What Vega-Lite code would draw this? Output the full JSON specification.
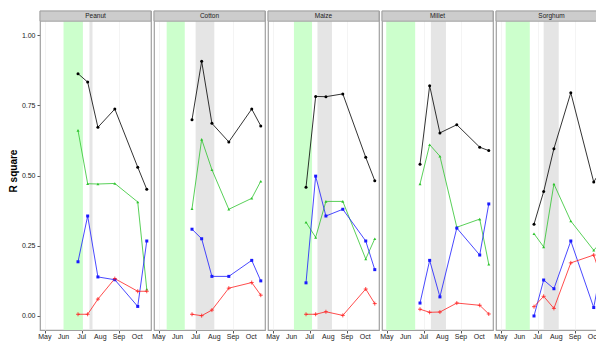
{
  "$schema": "https://vega.github.io/schema/vega-lite/v6.json",
  "padding": {"left": 8, "top": 9, "right": 0, "bottom": 0},
  "config": {
    "font": "Liberation Sans",
    "view": {"stroke": "#a0a0a0", "strokeWidth": 1.2},
    "axis": {"labelColor": "#1a1a1a", "labelFontSize": 7, "tickColor": "#555", "tickSize": 3, "domain": false, "gridColor": "#ececec", "gridWidth": 0.6}
  },
  "data": {"values": [
    {"crop":"Peanut","kind":"green","start":"2014-06-01","end":"2014-07-03"},
    {"crop":"Peanut","kind":"grey","start":"2014-07-14","end":"2014-07-19"},
    {"crop":"Cotton","kind":"green","start":"2014-05-14","end":"2014-06-13"},
    {"crop":"Cotton","kind":"grey","start":"2014-07-01","end":"2014-08-01"},
    {"crop":"Maize","kind":"green","start":"2014-06-05","end":"2014-07-05"},
    {"crop":"Maize","kind":"grey","start":"2014-07-14","end":"2014-08-07"},
    {"crop":"Millet","kind":"green","start":"2014-04-30","end":"2014-06-17"},
    {"crop":"Millet","kind":"grey","start":"2014-07-13","end":"2014-08-07"},
    {"crop":"Sorghum","kind":"green","start":"2014-05-09","end":"2014-06-18"},
    {"crop":"Sorghum","kind":"grey","start":"2014-07-11","end":"2014-08-05"},

    {"crop":"Peanut","kind":"month","date":"2014-05-01","label":"May"},
    {"crop":"Peanut","kind":"month","date":"2014-06-01","label":"Jun"},
    {"crop":"Peanut","kind":"month","date":"2014-07-01","label":"Jul"},
    {"crop":"Peanut","kind":"month","date":"2014-08-01","label":"Aug"},
    {"crop":"Peanut","kind":"month","date":"2014-09-01","label":"Sep"},
    {"crop":"Peanut","kind":"month","date":"2014-10-01","label":"Oct"},
    {"crop":"Cotton","kind":"month","date":"2014-05-01","label":"May"},
    {"crop":"Cotton","kind":"month","date":"2014-06-01","label":"Jun"},
    {"crop":"Cotton","kind":"month","date":"2014-07-01","label":"Jul"},
    {"crop":"Cotton","kind":"month","date":"2014-08-01","label":"Aug"},
    {"crop":"Cotton","kind":"month","date":"2014-09-01","label":"Sep"},
    {"crop":"Cotton","kind":"month","date":"2014-10-01","label":"Oct"},
    {"crop":"Maize","kind":"month","date":"2014-05-01","label":"May"},
    {"crop":"Maize","kind":"month","date":"2014-06-01","label":"Jun"},
    {"crop":"Maize","kind":"month","date":"2014-07-01","label":"Jul"},
    {"crop":"Maize","kind":"month","date":"2014-08-01","label":"Aug"},
    {"crop":"Maize","kind":"month","date":"2014-09-01","label":"Sep"},
    {"crop":"Maize","kind":"month","date":"2014-10-01","label":"Oct"},
    {"crop":"Millet","kind":"month","date":"2014-05-01","label":"May"},
    {"crop":"Millet","kind":"month","date":"2014-06-01","label":"Jun"},
    {"crop":"Millet","kind":"month","date":"2014-07-01","label":"Jul"},
    {"crop":"Millet","kind":"month","date":"2014-08-01","label":"Aug"},
    {"crop":"Millet","kind":"month","date":"2014-09-01","label":"Sep"},
    {"crop":"Millet","kind":"month","date":"2014-10-01","label":"Oct"},
    {"crop":"Sorghum","kind":"month","date":"2014-05-01","label":"May"},
    {"crop":"Sorghum","kind":"month","date":"2014-06-01","label":"Jun"},
    {"crop":"Sorghum","kind":"month","date":"2014-07-01","label":"Jul"},
    {"crop":"Sorghum","kind":"month","date":"2014-08-01","label":"Aug"},
    {"crop":"Sorghum","kind":"month","date":"2014-09-01","label":"Sep"},
    {"crop":"Sorghum","kind":"month","date":"2014-10-01","label":"Oct"},

    {"crop":"Peanut","kind":"obs","series":"S1","date":"2014-06-25","r2":0.863},
    {"crop":"Peanut","kind":"obs","series":"S1","date":"2014-07-11","r2":0.833},
    {"crop":"Peanut","kind":"obs","series":"S1","date":"2014-07-28","r2":0.672},
    {"crop":"Peanut","kind":"obs","series":"S1","date":"2014-08-25","r2":0.737},
    {"crop":"Peanut","kind":"obs","series":"S1","date":"2014-10-02","r2":0.530},
    {"crop":"Peanut","kind":"obs","series":"S1","date":"2014-10-17","r2":0.451},
    {"crop":"Peanut","kind":"obs","series":"S2","date":"2014-06-25","r2":0.661},
    {"crop":"Peanut","kind":"obs","series":"S2","date":"2014-07-11","r2":0.471},
    {"crop":"Peanut","kind":"obs","series":"S2","date":"2014-07-28","r2":0.470},
    {"crop":"Peanut","kind":"obs","series":"S2","date":"2014-08-25","r2":0.472},
    {"crop":"Peanut","kind":"obs","series":"S2","date":"2014-10-02","r2":0.406},
    {"crop":"Peanut","kind":"obs","series":"S2","date":"2014-10-17","r2":0.095},
    {"crop":"Peanut","kind":"obs","series":"S3","date":"2014-06-25","r2":0.193},
    {"crop":"Peanut","kind":"obs","series":"S3","date":"2014-07-11","r2":0.356},
    {"crop":"Peanut","kind":"obs","series":"S3","date":"2014-07-28","r2":0.139},
    {"crop":"Peanut","kind":"obs","series":"S3","date":"2014-08-25","r2":0.129},
    {"crop":"Peanut","kind":"obs","series":"S3","date":"2014-10-02","r2":0.034},
    {"crop":"Peanut","kind":"obs","series":"S3","date":"2014-10-17","r2":0.267},
    {"crop":"Peanut","kind":"obs","series":"S4","date":"2014-06-25","r2":0.006},
    {"crop":"Peanut","kind":"obs","series":"S4","date":"2014-07-11","r2":0.006},
    {"crop":"Peanut","kind":"obs","series":"S4","date":"2014-07-28","r2":0.060},
    {"crop":"Peanut","kind":"obs","series":"S4","date":"2014-08-25","r2":0.133},
    {"crop":"Peanut","kind":"obs","series":"S4","date":"2014-10-02","r2":0.088},
    {"crop":"Peanut","kind":"obs","series":"S4","date":"2014-10-17","r2":0.088},

    {"crop":"Cotton","kind":"obs","series":"S1","date":"2014-06-25","r2":0.699},
    {"crop":"Cotton","kind":"obs","series":"S1","date":"2014-07-11","r2":0.907},
    {"crop":"Cotton","kind":"obs","series":"S1","date":"2014-07-28","r2":0.686},
    {"crop":"Cotton","kind":"obs","series":"S1","date":"2014-08-25","r2":0.620},
    {"crop":"Cotton","kind":"obs","series":"S1","date":"2014-10-02","r2":0.737},
    {"crop":"Cotton","kind":"obs","series":"S1","date":"2014-10-17","r2":0.677},
    {"crop":"Cotton","kind":"obs","series":"S2","date":"2014-06-25","r2":0.382},
    {"crop":"Cotton","kind":"obs","series":"S2","date":"2014-07-11","r2":0.629},
    {"crop":"Cotton","kind":"obs","series":"S2","date":"2014-07-28","r2":0.521},
    {"crop":"Cotton","kind":"obs","series":"S2","date":"2014-08-25","r2":0.380},
    {"crop":"Cotton","kind":"obs","series":"S2","date":"2014-10-02","r2":0.419},
    {"crop":"Cotton","kind":"obs","series":"S2","date":"2014-10-17","r2":0.480},
    {"crop":"Cotton","kind":"obs","series":"S3","date":"2014-06-25","r2":0.309},
    {"crop":"Cotton","kind":"obs","series":"S3","date":"2014-07-11","r2":0.275},
    {"crop":"Cotton","kind":"obs","series":"S3","date":"2014-07-28","r2":0.141},
    {"crop":"Cotton","kind":"obs","series":"S3","date":"2014-08-25","r2":0.141},
    {"crop":"Cotton","kind":"obs","series":"S3","date":"2014-10-02","r2":0.198},
    {"crop":"Cotton","kind":"obs","series":"S3","date":"2014-10-17","r2":0.125},
    {"crop":"Cotton","kind":"obs","series":"S4","date":"2014-06-25","r2":0.006},
    {"crop":"Cotton","kind":"obs","series":"S4","date":"2014-07-11","r2":0.001},
    {"crop":"Cotton","kind":"obs","series":"S4","date":"2014-07-28","r2":0.021},
    {"crop":"Cotton","kind":"obs","series":"S4","date":"2014-08-25","r2":0.099},
    {"crop":"Cotton","kind":"obs","series":"S4","date":"2014-10-02","r2":0.119},
    {"crop":"Cotton","kind":"obs","series":"S4","date":"2014-10-17","r2":0.074},

    {"crop":"Maize","kind":"obs","series":"S1","date":"2014-06-25","r2":0.458},
    {"crop":"Maize","kind":"obs","series":"S1","date":"2014-07-11","r2":0.782},
    {"crop":"Maize","kind":"obs","series":"S1","date":"2014-07-28","r2":0.781},
    {"crop":"Maize","kind":"obs","series":"S1","date":"2014-08-25","r2":0.791},
    {"crop":"Maize","kind":"obs","series":"S1","date":"2014-10-02","r2":0.565},
    {"crop":"Maize","kind":"obs","series":"S1","date":"2014-10-17","r2":0.482},
    {"crop":"Maize","kind":"obs","series":"S2","date":"2014-06-25","r2":0.334},
    {"crop":"Maize","kind":"obs","series":"S2","date":"2014-07-11","r2":0.280},
    {"crop":"Maize","kind":"obs","series":"S2","date":"2014-07-28","r2":0.408},
    {"crop":"Maize","kind":"obs","series":"S2","date":"2014-08-25","r2":0.408},
    {"crop":"Maize","kind":"obs","series":"S2","date":"2014-10-02","r2":0.203},
    {"crop":"Maize","kind":"obs","series":"S2","date":"2014-10-17","r2":0.275},
    {"crop":"Maize","kind":"obs","series":"S3","date":"2014-06-25","r2":0.118},
    {"crop":"Maize","kind":"obs","series":"S3","date":"2014-07-11","r2":0.498},
    {"crop":"Maize","kind":"obs","series":"S3","date":"2014-07-28","r2":0.356},
    {"crop":"Maize","kind":"obs","series":"S3","date":"2014-08-25","r2":0.380},
    {"crop":"Maize","kind":"obs","series":"S3","date":"2014-10-02","r2":0.267},
    {"crop":"Maize","kind":"obs","series":"S3","date":"2014-10-17","r2":0.165},
    {"crop":"Maize","kind":"obs","series":"S4","date":"2014-06-25","r2":0.006},
    {"crop":"Maize","kind":"obs","series":"S4","date":"2014-07-11","r2":0.006},
    {"crop":"Maize","kind":"obs","series":"S4","date":"2014-07-28","r2":0.015},
    {"crop":"Maize","kind":"obs","series":"S4","date":"2014-08-25","r2":0.002},
    {"crop":"Maize","kind":"obs","series":"S4","date":"2014-10-02","r2":0.096},
    {"crop":"Maize","kind":"obs","series":"S4","date":"2014-10-17","r2":0.044},

    {"crop":"Millet","kind":"obs","series":"S1","date":"2014-06-25","r2":0.540},
    {"crop":"Millet","kind":"obs","series":"S1","date":"2014-07-11","r2":0.820},
    {"crop":"Millet","kind":"obs","series":"S1","date":"2014-07-28","r2":0.652},
    {"crop":"Millet","kind":"obs","series":"S1","date":"2014-08-25","r2":0.681},
    {"crop":"Millet","kind":"obs","series":"S1","date":"2014-10-02","r2":0.601},
    {"crop":"Millet","kind":"obs","series":"S1","date":"2014-10-17","r2":0.589},
    {"crop":"Millet","kind":"obs","series":"S2","date":"2014-06-25","r2":0.470},
    {"crop":"Millet","kind":"obs","series":"S2","date":"2014-07-11","r2":0.610},
    {"crop":"Millet","kind":"obs","series":"S2","date":"2014-07-28","r2":0.569},
    {"crop":"Millet","kind":"obs","series":"S2","date":"2014-08-25","r2":0.316},
    {"crop":"Millet","kind":"obs","series":"S2","date":"2014-10-02","r2":0.345},
    {"crop":"Millet","kind":"obs","series":"S2","date":"2014-10-17","r2":0.184},
    {"crop":"Millet","kind":"obs","series":"S3","date":"2014-06-25","r2":0.046},
    {"crop":"Millet","kind":"obs","series":"S3","date":"2014-07-11","r2":0.198},
    {"crop":"Millet","kind":"obs","series":"S3","date":"2014-07-28","r2":0.068},
    {"crop":"Millet","kind":"obs","series":"S3","date":"2014-08-25","r2":0.313},
    {"crop":"Millet","kind":"obs","series":"S3","date":"2014-10-02","r2":0.217},
    {"crop":"Millet","kind":"obs","series":"S3","date":"2014-10-17","r2":0.399},
    {"crop":"Millet","kind":"obs","series":"S4","date":"2014-06-25","r2":0.024},
    {"crop":"Millet","kind":"obs","series":"S4","date":"2014-07-11","r2":0.013},
    {"crop":"Millet","kind":"obs","series":"S4","date":"2014-07-28","r2":0.014},
    {"crop":"Millet","kind":"obs","series":"S4","date":"2014-08-25","r2":0.046},
    {"crop":"Millet","kind":"obs","series":"S4","date":"2014-10-02","r2":0.038},
    {"crop":"Millet","kind":"obs","series":"S4","date":"2014-10-17","r2":0.007},

    {"crop":"Sorghum","kind":"obs","series":"S1","date":"2014-06-25","r2":0.327},
    {"crop":"Sorghum","kind":"obs","series":"S1","date":"2014-07-11","r2":0.443},
    {"crop":"Sorghum","kind":"obs","series":"S1","date":"2014-07-28","r2":0.596},
    {"crop":"Sorghum","kind":"obs","series":"S1","date":"2014-08-25","r2":0.795},
    {"crop":"Sorghum","kind":"obs","series":"S1","date":"2014-10-02","r2":0.477},
    {"crop":"Sorghum","kind":"obs","series":"S1","date":"2014-10-17","r2":0.53},
    {"crop":"Sorghum","kind":"obs","series":"S2","date":"2014-06-25","r2":0.293},
    {"crop":"Sorghum","kind":"obs","series":"S2","date":"2014-07-11","r2":0.246},
    {"crop":"Sorghum","kind":"obs","series":"S2","date":"2014-07-28","r2":0.470},
    {"crop":"Sorghum","kind":"obs","series":"S2","date":"2014-08-25","r2":0.338},
    {"crop":"Sorghum","kind":"obs","series":"S2","date":"2014-10-02","r2":0.234},
    {"crop":"Sorghum","kind":"obs","series":"S2","date":"2014-10-17","r2":0.27},
    {"crop":"Sorghum","kind":"obs","series":"S3","date":"2014-06-25","r2":0.000},
    {"crop":"Sorghum","kind":"obs","series":"S3","date":"2014-07-11","r2":0.128},
    {"crop":"Sorghum","kind":"obs","series":"S3","date":"2014-07-28","r2":0.097},
    {"crop":"Sorghum","kind":"obs","series":"S3","date":"2014-08-25","r2":0.267},
    {"crop":"Sorghum","kind":"obs","series":"S3","date":"2014-10-02","r2":0.030},
    {"crop":"Sorghum","kind":"obs","series":"S3","date":"2014-10-17","r2":0.20},
    {"crop":"Sorghum","kind":"obs","series":"S4","date":"2014-06-25","r2":0.033},
    {"crop":"Sorghum","kind":"obs","series":"S4","date":"2014-07-11","r2":0.070},
    {"crop":"Sorghum","kind":"obs","series":"S4","date":"2014-07-28","r2":0.027},
    {"crop":"Sorghum","kind":"obs","series":"S4","date":"2014-08-25","r2":0.189},
    {"crop":"Sorghum","kind":"obs","series":"S4","date":"2014-10-02","r2":0.217},
    {"crop":"Sorghum","kind":"obs","series":"S4","date":"2014-10-17","r2":0.12}
  ]},
  "facet": {"column": {"field": "crop", "type": "nominal", "sort": ["Peanut","Cotton","Maize","Millet","Sorghum"], "header": null}},
  "spacing": 3,
  "bounds": "flush",
  "spec": {
    "width": 111,
    "height": 319,
    "layer": [
      {
        "transform": [{"filter": "datum.kind == 'green'"}],
        "mark": {"type": "rect", "fill": "#ccffcc"},
        "encoding": {
          "x": {"field": "start", "type": "temporal",
            "scale": {"type": "utc", "domain": [1398211200000, 1414108800000]},
            "axis": {
              "title": null,
              "values": [1398902400000, 1401580800000, 1404172800000, 1406851200000, 1409529600000, 1412121600000],
              "labels": false
            }
          },
          "x2": {"field": "end"},
          "y": {"datum": -0.05, "type": "quantitative",
            "scale": {"domain": [-0.05, 1.0862], "nice": false, "zero": false},
            "axis": {
              "title": "R square", "titleFontSize": 10, "titleFontWeight": "bold", "titleColor": "#000", "titlePadding": 3,
              "values": [0, 0.25, 0.5, 0.75, 1],
              "format": ".2f",
              "labelPadding": 2
            }
          },
          "y2": {"datum": 1.05}
        }
      },
      {
        "transform": [{"filter": "datum.kind == 'grey'"}],
        "mark": {"type": "rect", "fill": "#e5e5e5"},
        "encoding": {
          "x": {"field": "start", "type": "temporal"},
          "x2": {"field": "end"},
          "y": {"datum": -0.05, "type": "quantitative"},
          "y2": {"datum": 1.05}
        }
      },
      {
        "transform": [{"filter": "datum.kind == 'green'"}],
        "mark": {"type": "rect", "fill": "#cccccc", "stroke": "#a0a0a0", "strokeWidth": 1},
        "encoding": {
          "x": {"datum": 1398211200000, "type": "temporal"},
          "x2": {"datum": 1414108800000},
          "y": {"datum": 1.05, "type": "quantitative"},
          "y2": {"datum": 1.0862}
        }
      },
      {
        "transform": [{"filter": "datum.kind == 'green'"}],
        "mark": {"type": "text", "fontSize": 6.5, "baseline": "middle", "align": "center", "color": "#1a1a1a"},
        "encoding": {
          "x": {"datum": 1406160000000, "type": "temporal"},
          "y": {"datum": 1.068, "type": "quantitative"},
          "text": {"field": "crop"}
        }
      },
      {
        "transform": [{"filter": "datum.kind == 'month'"}],
        "mark": {"type": "text", "fontSize": 7, "baseline": "middle", "align": "center", "color": "#1a1a1a", "clip": false},
        "encoding": {
          "x": {"field": "date", "type": "temporal"},
          "y": {"datum": -0.075, "type": "quantitative"},
          "text": {"field": "label"}
        }
      },
      {
        "transform": [{"filter": "datum.kind == 'obs'"}],
        "mark": {"type": "line", "strokeWidth": 0.8},
        "encoding": {
          "x": {"field": "date", "type": "temporal"},
          "y": {"field": "r2", "type": "quantitative"},
          "color": {"field": "series", "type": "nominal", "legend": null,
            "scale": {"domain": ["S1", "S2", "S3", "S4"], "range": ["#000000", "#2ec42e", "#1a1aff", "#ff2020"]}}
        }
      },
      {
        "transform": [{"filter": "datum.kind == 'obs' && datum.series != 'S4'"}],
        "mark": {"type": "point", "filled": true, "size": 9, "opacity": 1},
        "encoding": {
          "x": {"field": "date", "type": "temporal"},
          "y": {"field": "r2", "type": "quantitative"},
          "color": {"field": "series", "type": "nominal", "legend": null},
          "shape": {"field": "series", "type": "nominal", "legend": null,
            "scale": {"domain": ["S1", "S2", "S3"], "range": ["circle", "triangle-up", "square"]}}
        }
      },
      {
        "transform": [{"filter": "datum.kind == 'obs' && datum.series == 'S4'"}],
        "mark": {"type": "point", "filled": false, "shape": "M-1,0H1M0,-1V1", "size": 16, "strokeWidth": 0.8, "opacity": 1},
        "encoding": {
          "x": {"field": "date", "type": "temporal"},
          "y": {"field": "r2", "type": "quantitative"},
          "color": {"field": "series", "type": "nominal", "legend": null}
        }
      }
    ]
  }
}
